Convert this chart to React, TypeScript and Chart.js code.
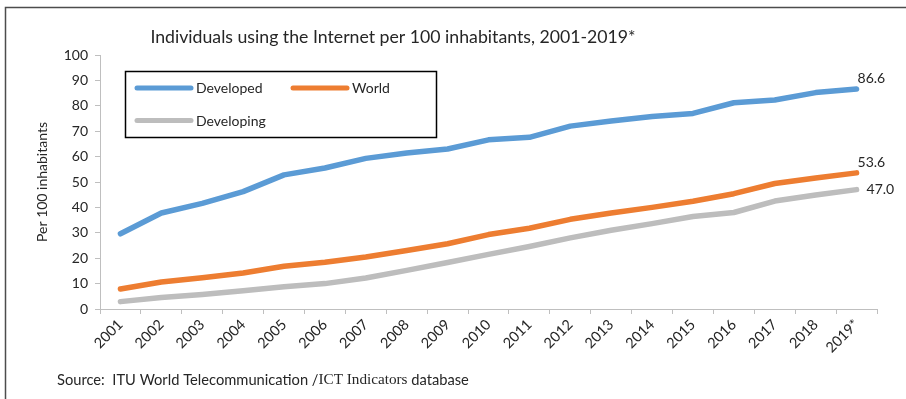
import { useEffect, useRef } from "react";
import { Chart, registerables } from "chart.js";

Chart.register(...registerables);

// Internet users per 100 inhabitants, 2001-2019 (2019 estimated)
const years = [
  "2001", "2002", "2003", "2004", "2005", "2006", "2007", "2008", "2009", "2010",
  "2011", "2012", "2013", "2014", "2015", "2016", "2017", "2018", "2019*",
];
const developed = [
  29.6, 37.8, 41.6, 46.2, 52.8, 55.5, 59.3, 61.4, 63.0, 66.6,
  67.6, 72.0, 74.0, 75.8, 77.0, 81.2, 82.3, 85.2, 86.6,
];
const world = [
  7.9, 10.6, 12.3, 14.2, 16.8, 18.4, 20.5, 23.0, 25.7, 29.3,
  31.8, 35.3, 37.8, 40.0, 42.4, 45.4, 49.4, 51.6, 53.6,
];
const developing = [
  2.9, 4.5, 5.7, 7.2, 8.8, 10.0, 12.2, 15.2, 18.3, 21.5,
  24.6, 28.0, 31.0, 33.6, 36.4, 38.0, 42.5, 44.9, 47.0,
];
const seriesNames = ["Developed", "World", "Developing"];
const seriesColors = ["#5b9bd5", "#ed7d31", "#bdbdbd"];
const yMin = 0;
const yMax = 100;
const yStep = 10;

const titleText = "Individuals using the Internet per 100 inhabitants, 2001-2019*";
const yAxisTitle = "Per 100 inhabitants";
const sourceParts = ["Source:  ITU World Telecommunication /", "ICT Indicators", " database"];

const SANS = "Lato, 'Open Sans', sans-serif";
const SERIF = "'Liberation Serif', 'DejaVu Serif', serif";
const TEXT = "#262626";
const AXIS = "#bfbfbf";

// Frame, title, legend box, end-of-line value labels and source note
const decorations = {
  id: "decorations",
  afterDraw(chart: Chart) {
    const ctx = chart.ctx;
    ctx.save();

    // outer frame (left and top edges visible)
    ctx.strokeStyle = "#4d4d4d";
    ctx.lineWidth = 1.5;
    ctx.beginPath();
    ctx.moveTo(5.5, 399);
    ctx.lineTo(5.5, 7.5);
    ctx.lineTo(906, 7.5);
    ctx.stroke();

    // title
    ctx.fillStyle = TEXT;
    ctx.font = `17.7px ${SANS}`;
    ctx.textAlign = "center";
    ctx.textBaseline = "middle";
    ctx.fillText(titleText, 393, 37);

    // legend
    ctx.strokeStyle = "#000";
    ctx.lineWidth = 1.5;
    ctx.strokeRect(125.5, 71.5, 311, 66);
    const entries = [
      { x: 137, y: 88 },
      { x: 293, y: 88 },
      { x: 137, y: 120.5 },
    ];
    ctx.font = `14px ${SANS}`;
    ctx.textAlign = "left";
    ctx.lineCap = "round";
    entries.forEach((e, i) => {
      ctx.strokeStyle = seriesColors[i];
      ctx.lineWidth = 5;
      ctx.beginPath();
      ctx.moveTo(e.x, e.y);
      ctx.lineTo(e.x + 54, e.y);
      ctx.stroke();
      ctx.fillStyle = TEXT;
      ctx.fillText(seriesNames[i], e.x + 59, e.y + 0.5);
    });

    // value labels at the last point of each line
    const offsets = [
      { dx: 1, dy: -11 },
      { dx: 1, dy: -10 },
      { dx: 10, dy: 0 },
    ];
    ctx.font = `14px ${SANS}`;
    chart.data.datasets.forEach((ds, i) => {
      const meta = chart.getDatasetMeta(i);
      const last = meta.data[meta.data.length - 1];
      const v = ds.data[ds.data.length - 1] as number;
      ctx.fillStyle = TEXT;
      ctx.fillText(v.toFixed(1), last.x + offsets[i].dx, last.y + offsets[i].dy);
    });

    // source note (mixed fonts)
    let x = 57;
    const y = 380;
    const fonts = [`14.7px ${SANS}`, `15.2px ${SERIF}`, `14.7px ${SANS}`];
    sourceParts.forEach((t, i) => {
      ctx.font = fonts[i];
      ctx.fillText(t, x, y);
      x += ctx.measureText(t).width;
    });

    ctx.restore();
  },
};

export default function App() {
  const canvasRef = useRef<HTMLCanvasElement | null>(null);

  useEffect(() => {
    if (!canvasRef.current) return;
    const series = [developed, world, developing];
    const chart = new Chart(canvasRef.current, {
      type: "line",
      data: {
        labels: years,
        datasets: series.map((d, i) => ({
          label: seriesNames[i],
          data: d,
          borderColor: seriesColors[i],
          backgroundColor: seriesColors[i],
          borderWidth: 5.5,
          borderCapStyle: "round" as const,
          borderJoinStyle: "round" as const,
          pointRadius: 0,
          tension: 0,
        })),
      },
      options: {
        animation: false,
        responsive: false,
        maintainAspectRatio: false,
        layout: { padding: { left: 0, top: 55, right: 29, bottom: 0 } },
        plugins: {
          legend: { display: false },
          title: { display: false },
          tooltip: { enabled: false },
        },
        scales: {
          x: {
            type: "category",
            offset: true,
            grid: {
              offset: true,
              drawOnChartArea: false,
              drawTicks: true,
              tickLength: 5,
              color: AXIS,
            },
            border: { color: AXIS, width: 1 },
            ticks: {
              autoSkip: false,
              minRotation: 45,
              maxRotation: 45,
              padding: 2,
              color: TEXT,
              font: { family: SANS, size: 14.5 },
            },
            afterFit(scale: any) {
              scale.height = 90;
            },
          },
          y: {
            min: yMin,
            max: yMax,
            grid: {
              drawOnChartArea: false,
              drawTicks: true,
              tickLength: 5,
              color: AXIS,
            },
            border: { color: AXIS, width: 1 },
            ticks: {
              stepSize: yStep,
              padding: 7,
              color: TEXT,
              font: { family: SANS, size: 14 },
            },
            title: {
              display: true,
              text: yAxisTitle,
              color: TEXT,
              font: { family: SANS, size: 14 },
              padding: { top: 34, bottom: 0 },
            },
            afterFit(scale: any) {
              scale.width = 100;
            },
          },
        },
      },
      plugins: [decorations],
    });
    return () => chart.destroy();
  }, []);

  return (
    <div style={{ position: "absolute", left: 0, top: 0, width: 906, height: 399, background: "#fff" }}>
      <canvas ref={canvasRef} width={906} height={399} style={{ display: "block", width: 906, height: 399 }} />
    </div>
  );
}
